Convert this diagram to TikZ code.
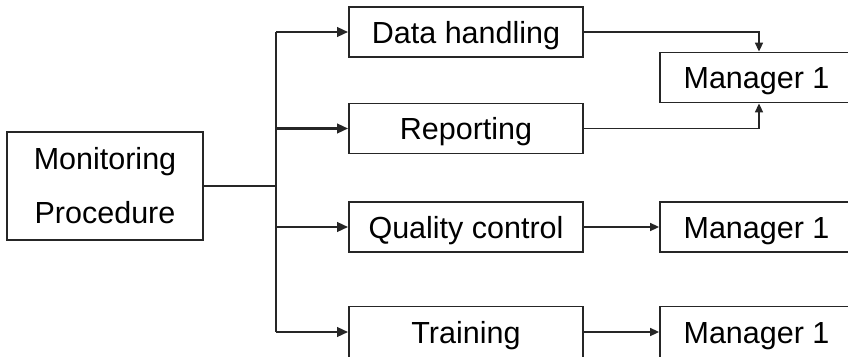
\documentclass[tikz,border=0pt]{standalone}
\usepackage{fontspec}
\setmainfont{Liberation Sans}
\usetikzlibrary{arrows.meta}
\begin{document}
\begin{tikzpicture}[x=1pt,y=-1pt,
  box/.style={draw=black!85, line width=1.8pt, inner sep=0pt, minimum height=50pt,
    font=\fontsize{30.5}{36}\selectfont, text height=22pt, text depth=0pt},
  lbox/.style={box, minimum width=234pt},
  rbox/.style={box, minimum width=193pt},
  trunk/.style={line width=2.4pt, black!85},
  feed/.style={trunk, -{Triangle[length=11pt,width=9.5pt]}},
  link/.style={line width=1.6pt, black!85, -{Triangle[length=9pt,width=8pt]}}]
\useasboundingbox (0,0) rectangle (848,356);
\clip (0,0) rectangle (848,356);
\node[box, minimum width=196pt, minimum height=108pt, align=center,
  font=\fontsize{30.5}{54}\selectfont, text height=, text depth=] (mon) at (105,186) {Monitoring\\Procedure};
\node[lbox] (dh) at (466,32) {Data handling};
\node[lbox] (rep) at (466,128.5) {Reporting};
\node[lbox] (qc) at (466,227) {Quality control};
\node[lbox, minimum height=51pt] (tr) at (466,332) {Training};
\node[rbox] (m1) at (756.5,77.5) {Manager 1};
\node[rbox] (m2) at (756.5,227) {Manager 1};
\node[rbox, minimum height=51pt] (m3) at (756.5,332) {Manager 1};
\coordinate (tj) at (276,186);
\coordinate (ttop) at (276,32);
\coordinate (tbot) at (276,332);
\draw[trunk] (mon.east) -- (tj);
\draw[trunk] (ttop) -- (tbot);
\draw[feed] (ttop) -- (dh.west);
\draw[feed] (tj |- rep.west) -- (rep.west);
\draw[feed] (tj |- qc.west) -- (qc.west);
\draw[feed] (tbot) -- (tr.west);
\draw[link] (dh.east) -| ([xshift=2.5pt]m1.north);
\draw[link] (rep.east) -| ([xshift=2.5pt]m1.south);
\draw[link] (qc.east) -- (m2.west);
\draw[link] (tr.east) -- (m3.west);
\end{tikzpicture}
\end{document}
